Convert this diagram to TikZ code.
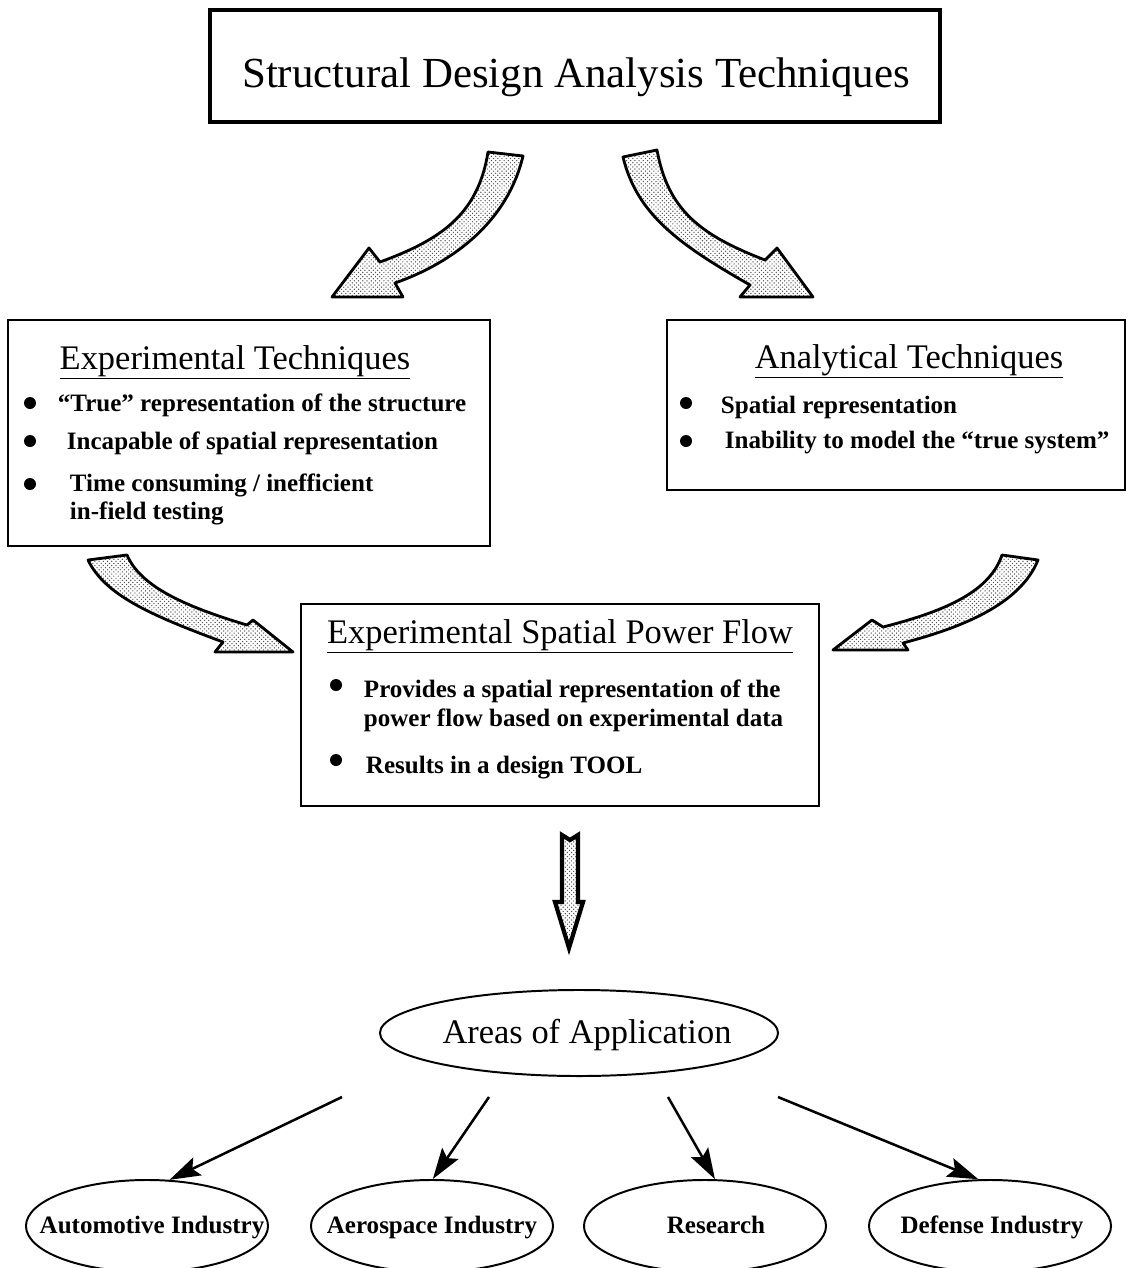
\documentclass[tikz,border=0pt]{standalone}
\usepackage{fontspec}
\setmainfont{Liberation Serif}
\usetikzlibrary{shapes.geometric,patterns,arrows.meta}

\begin{document}
\begin{tikzpicture}[x=0.025cm, y=-0.025cm,
	box/.style={draw, line width=1.4pt, inner sep=0pt},
	oval/.style={draw, ellipse, line width=1.4pt, inner sep=0pt, minimum width=6.05cm, minimum height=2.3cm},
	head/.style={anchor=base, font=\fontsize{24.5}{28}\selectfont},
	txt/.style={anchor=base west, font=\bfseries\fontsize{17.8}{21}\selectfont},
	lbl/.style={anchor=base, font=\bfseries\fontsize{17.8}{21}\selectfont},
	dot/.style={circle, fill, inner sep=0pt, minimum size=0.3cm},
	fat/.style={line width=2pt, line join=round, pattern=crosshatch dots, pattern color=black!70},
	leg/.style={line width=1.8pt, -{Stealth[length=22pt, width=14pt, inset=4pt]}}]
	\useasboundingbox (0, 0) rectangle (1126, 1268);

	% boxes
	\node[box, line width=2.8pt, minimum width=18.25cm, minimum height=2.8cm] (top) at (575, 66) {};
	\node[anchor=base, font=\fontsize{30.5}{36}\selectfont] (toptext) at (576, 88) {Structural Design Analysis Techniques};

	\node[box, minimum width=12.05cm, minimum height=5.65cm] (exp) at (249, 433) {};
	\node[head] (exphead) at (235, 369) {\underline{Experimental Techniques}};
	\node[dot] (ed1) at (30, 403) {};
	\node[dot] (ed2) at (30, 441) {};
	\node[dot] (ed3) at (30, 484) {};
	\node[txt] (e1) at (53, 411) {“True” representation of the structure};
	\node[txt] (e2) at (62, 449) {Incapable of spatial representation};
	\node[txt] (e3) at (65, 491) {Time consuming / inefficient};
	\node[txt] (e3b) at (65, 519) {in-field testing};

	\node[box, minimum width=11.45cm, minimum height=4.25cm] (ana) at (896, 405) {};
	\node[head] (anahead) at (909, 368) {\underline{Analytical Techniques}};
	\node[dot] (ad1) at (686, 403) {};
	\node[dot] (ad2) at (686, 441) {};
	\node[txt] (a1) at (716, 413) {Spatial representation};
	\node[txt] (a2) at (720, 448) {Inability to model the “true system”};

	\node[box, minimum width=12.95cm, minimum height=5.05cm] (espf) at (560, 705) {};
	\node[head] (espfhead) at (560, 643) {\underline{Experimental Spatial Power Flow}};
	\node[dot] (sd1) at (336, 685) {};
	\node[dot] (sd2) at (336, 760) {};
	\node[txt] (s1) at (359, 697) {Provides a spatial representation of the};
	\node[txt] (s1b) at (359, 726) {power flow based on experimental data};
	\node[txt] (s2) at (361, 773) {Results in a design TOOL};

	% fat arrows
	\filldraw[fat] (488, 152) .. controls (478, 215) and (440, 240) .. (380, 262) -- (369, 248) -- (332, 297) -- (403, 297) -- (395, 283) .. controls (455, 262) and (508, 220) .. (523, 156) -- cycle;
	\filldraw[fat] (623, 157) .. controls (637, 215) and (680, 245) .. (750, 285) -- (740, 297) -- (813, 297) -- (777, 248) -- (765, 260) .. controls (700, 235) and (668, 210) .. (657, 150) -- cycle;
	\filldraw[fat] (88, 560) .. controls (105, 595) and (150, 615) .. (223, 642) -- (215, 652) -- (293, 652) -- (253, 620) -- (247, 625) .. controls (180, 605) and (140, 585) .. (127, 555) -- cycle;
	\filldraw[fat] (1002, 555) .. controls (990, 590) and (950, 610) .. (883, 627) -- (872, 620) -- (833, 650) -- (908, 650) -- (903, 643) .. controls (960, 628) and (1020, 605) .. (1038, 560) -- cycle;
	\filldraw[fat, line width=3pt, line join=miter] (562, 835) -- (570, 840) -- (578, 835) -- (578, 902) -- (583, 902) -- (569, 948) -- (555, 902) -- (562, 902) -- cycle;

	% areas
	\node[oval, minimum width=9.95cm, minimum height=2.15cm] (areas) at (579, 1033) {};
	\node[head] (areastext) at (587, 1043) {Areas of Application};

	\node[oval] (auto) at (147, 1226) {};
	\node[oval] (aero) at (432, 1226) {};
	\node[oval] (res) at (705, 1226) {};
	\node[oval] (def) at (990, 1226) {};
	\node[lbl] (autotext) at (152, 1233) {Automotive Industry};
	\node[lbl] (aerotext) at (432, 1233) {Aerospace Industry};
	\node[lbl] (restext) at (716, 1233) {Research};
	\node[lbl] (deftext) at (992, 1233) {Defense Industry};

	\coordinate (l1) at (342, 1097);
	\coordinate (l2) at (489, 1097);
	\coordinate (l3) at (668, 1097);
	\coordinate (l4) at (778, 1097);
	\draw[leg] (l1) -- (auto.64);
	\draw[leg] (l2) -- (aero.89);
	\draw[leg] (l3) -- (res.78);
	\draw[leg] (l4) -- (def.104);
\end{tikzpicture}
\end{document}
